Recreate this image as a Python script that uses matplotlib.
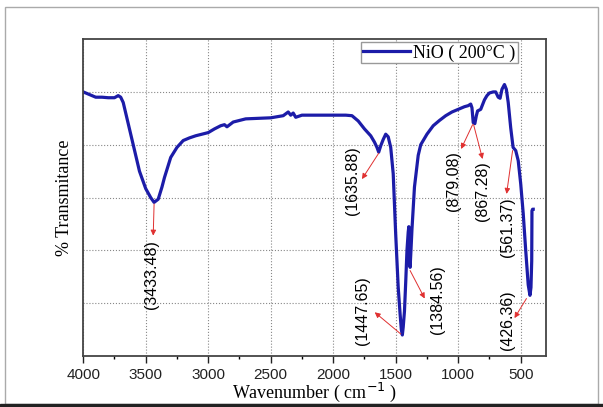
import numpy as np
import matplotlib.pyplot as plt
from matplotlib.ticker import MultipleLocator
from matplotlib.patches import Rectangle

# FTIR spectrum of NiO (200 C)
wn = [4000, 3950, 3900, 3850, 3800, 3750, 3720, 3700, 3680, 3650, 3600, 3550,
      3500, 3460, 3433, 3400, 3370, 3350, 3300, 3250, 3200, 3150, 3100, 3050,
      3000, 2950, 2900, 2870, 2850, 2800, 2750, 2700, 2600, 2500, 2400, 2360,
      2340, 2320, 2300, 2250, 2200, 2100, 2000, 1900, 1850, 1800, 1750, 1700,
      1670, 1650, 1636, 1620, 1600, 1580, 1560, 1540, 1520, 1500, 1480, 1465,
      1455, 1447, 1440, 1430, 1420, 1410, 1400, 1395, 1390, 1385, 1378, 1370,
      1350, 1320, 1300, 1250, 1200, 1150, 1100, 1050, 1000, 950, 920, 900,
      890, 880, 867, 855, 845, 820, 790, 770, 750, 720, 700, 680, 665, 650,
      630, 615, 600, 580, 561, 540, 520, 500, 480, 460, 440, 426, 418, 412,
      410, 405, 400]
trans = [5.00, 4.95, 4.90, 4.90, 4.89, 4.89, 4.93, 4.90, 4.80, 4.50, 4.00, 3.50,
         3.17, 3.00, 2.91, 2.97, 3.20, 3.38, 3.76, 3.95, 4.08, 4.13, 4.17, 4.20,
         4.23, 4.30, 4.36, 4.38, 4.34, 4.43, 4.46, 4.49, 4.50, 4.51, 4.55, 4.62,
         4.56, 4.60, 4.52, 4.56, 4.56, 4.56, 4.56, 4.56, 4.55, 4.45, 4.30, 4.17,
         4.05, 3.95, 3.86, 3.98, 4.10, 4.20, 4.15, 3.95, 3.45, 2.30, 1.30, 0.80,
         0.50, 0.40, 0.55, 0.85, 1.40, 2.00, 2.35, 2.45, 2.00, 1.68, 2.00, 2.40,
         3.20, 3.80, 4.00, 4.20, 4.36, 4.46, 4.55, 4.62, 4.67, 4.72, 4.74, 4.77,
         4.70, 4.42, 4.40, 4.55, 4.64, 4.67, 4.85, 4.93, 4.98, 5.00, 5.00, 4.90,
         4.88, 5.05, 5.14, 5.05, 4.80, 4.32, 3.95, 3.89, 3.70, 3.26, 2.70, 2.00,
         1.35, 1.15, 1.30, 1.80, 2.75, 2.78, 2.78]

# (label, peak x, peak y, arrow tip x, arrow tip y, text x, text y)
peaks = [
    ("(3433.48)", 3433, 2.88, 3440, 2.28, 3450, 1.55),
    ("(1635.88)", 1636, 3.84, 1770, 3.35, 1843, 3.32),
    ("(1447.65)", 1460, 0.42, 1668, 0.83, 1763, 0.87),
    ("(1384.56)", 1385, 1.62, 1268, 1.09, 1164, 1.06),
    ("(879.08)", 885, 4.38, 977, 3.92, 1037, 3.32),
    ("(867.28)", 877, 4.38, 805, 3.73, 805, 3.13),
    ("(561.37)", 565, 3.89, 613, 3.07, 605, 2.44),
    ("(426.36)", 454, 1.09, 550, 0.72, 605, 0.68),
]

fig = plt.figure(figsize=(6.03, 4.07), dpi=100)
ax = fig.add_axes([0.138, 0.125, 0.767, 0.779])

ax.plot(wn, trans, color='#1c1ca8', lw=2.3, label='NiO ( 200°C )')

for lab, px, py, tx, ty, lx, ly in peaks:
    ax.annotate('', xy=(tx, ty), xytext=(px, py),
                arrowprops=dict(arrowstyle='-|>', color='#e03030', lw=0.7,
                                mutation_scale=8, shrinkA=0, shrinkB=0))
    ax.text(lx, ly, lab, rotation=90, ha='center', va='center',
            fontsize=11.5, family='Liberation Sans')

ax.set_xlim(4000, 300)
ax.set_ylim(0, 6)
ax.xaxis.set_major_locator(MultipleLocator(500))
ax.xaxis.set_minor_locator(MultipleLocator(250))
ax.set_yticks([1, 2, 3, 4, 5])
ax.tick_params(axis='y', length=0, labelleft=False)
ax.tick_params(axis='x', which='major', direction='out', length=5, width=1,
               labelsize=11, colors='#222222')
ax.tick_params(axis='x', which='minor', direction='out', length=2.5, width=1)
for lbl in ax.get_xticklabels():
    lbl.set_family('Liberation Sans')
ax.grid(True, which='major', color='#888888', ls=':', lw=0.8)

for s in ax.spines.values():
    s.set_color('#444444')
    s.set_linewidth(1.3)

ax.set_xlabel('Wavenumber ( cm$^{-1}$ )', family='Liberation Serif',
              fontsize=13, labelpad=-1)
ax.set_ylabel('% Transmitance', family='Liberation Serif', fontsize=13,
              labelpad=7)

leg = ax.legend(loc='upper right', bbox_to_anchor=(0.943, 0.995),
                prop={'family': 'Liberation Serif', 'size': 13},
                handlelength=2.6, handletextpad=0.2, borderpad=0.1,
                fancybox=False, framealpha=1, borderaxespad=0.1)
leg.get_frame().set_edgecolor('#999999')
leg.get_frame().set_linewidth(1.0)

# outer frame of the picture
fig.patches.append(Rectangle((5 / 603, 3 / 407), 593 / 603, 397 / 407,
                             transform=fig.transFigure, fill=False,
                             ec='#aaaaaa', lw=1.0))
fig.patches.append(Rectangle((0, 0), 1, 3 / 407, transform=fig.transFigure,
                             color='#222222'))

fig.savefig('out.png', dpi=100)
